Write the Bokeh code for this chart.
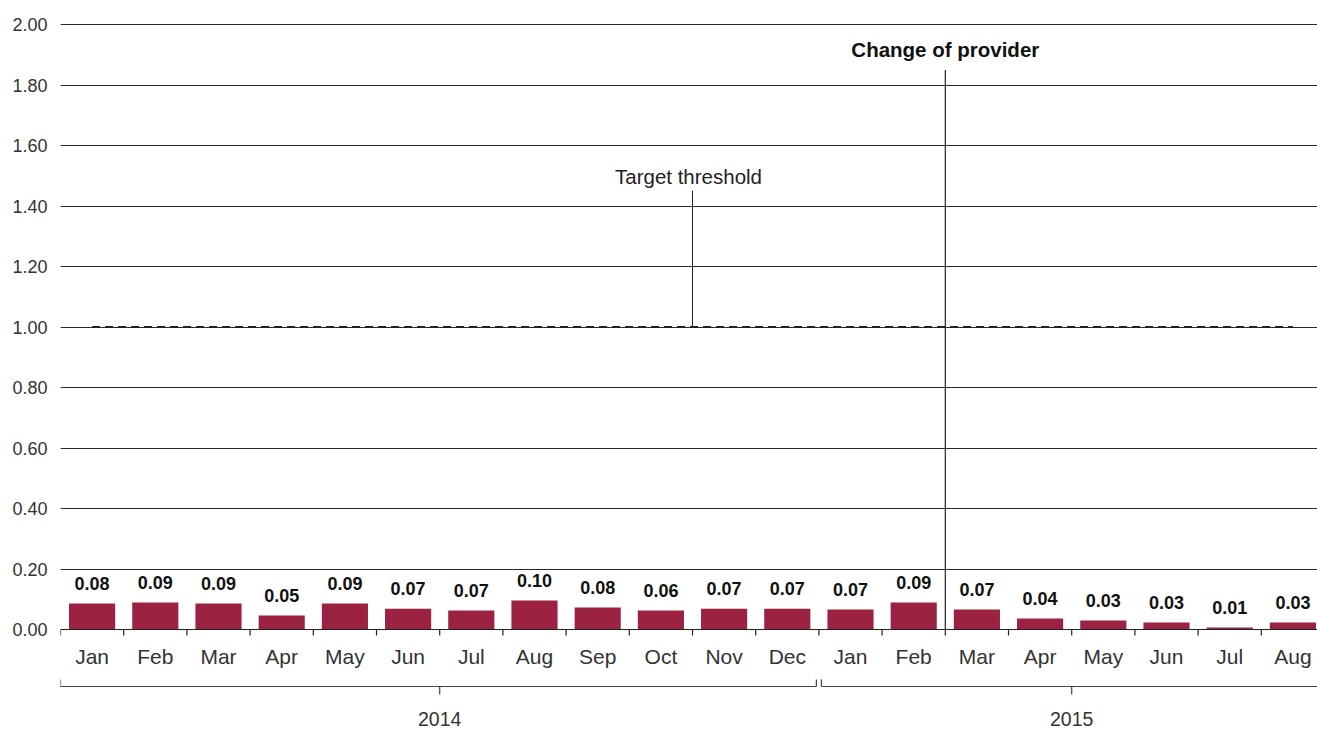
from bokeh.plotting import figure
from bokeh.models import FixedTicker, NumeralTickFormatter, ColumnDataSource, Span
from bokeh.core.properties import value
from bokeh.embed import file_html
from bokeh.resources import INLINE

# ---- data ----
months = ["Jan", "Feb", "Mar", "Apr", "May", "Jun", "Jul", "Aug", "Sep", "Oct", "Nov", "Dec",
          "Jan", "Feb", "Mar", "Apr", "May", "Jun", "Jul", "Aug"]
years = ["2014", "2015"]
year_counts = [12, 8]
bar_values = [0.086, 0.089, 0.086, 0.046, 0.086, 0.069, 0.063, 0.096, 0.073, 0.063,
              0.069, 0.069, 0.066, 0.089, 0.066, 0.036, 0.030, 0.023, 0.007, 0.023]
value_labels = ["0.08", "0.09", "0.09", "0.05", "0.09", "0.07", "0.07", "0.10", "0.08", "0.06",
                "0.07", "0.07", "0.07", "0.09", "0.07", "0.04", "0.03", "0.03", "0.01", "0.03"]
y_ticks = [0.0, 0.2, 0.4, 0.6, 0.8, 1.0, 1.2, 1.4, 1.6, 1.8, 2.0]
threshold = 1.0
threshold_label = "Target threshold"
threshold_label_pos = 9.5
threshold_label_height = 1.45
provider_change_pos = 13.5
provider_label = "Change of provider"
provider_line_top = 1.85

# ---- layout ----
W, H = 1317, 729
LEFT = 60
CAT_PX = 63.2
PPU = 302.5  # pixels per y unit
y_start = -(H - 629) / PPU
y_end = y_start + H / PPU
x_start = -0.5
x_end = x_start + (W - LEFT) / CAT_PX

FONT = "Liberation Sans"
TXT = "#333333"
BAR = "#9b2240"

p = figure(width=W, height=H, output_backend="svg", toolbar_location=None,
           x_range=(x_start, x_end), y_range=(y_start, y_end),
           x_axis_location=None, min_border_left=LEFT, min_border_top=0,
           min_border_bottom=0, min_border_right=0)
p.outline_line_color = None
p.xgrid.visible = False
p.ygrid.ticker = FixedTicker(ticks=y_ticks[1:])
p.ygrid.grid_line_color = "#2a2a2a"
p.ygrid.grid_line_width = 1

ya = p.yaxis[0]
ya.ticker = FixedTicker(ticks=y_ticks)
ya.formatter = NumeralTickFormatter(format="0.00")
ya.axis_line_color = None
ya.major_tick_line_color = None
ya.minor_tick_line_color = None
ya.major_tick_out = 0
ya.major_tick_in = 0
ya.major_label_standoff = 13
ya.major_label_text_font = FONT
ya.major_label_text_font_size = "18px"
ya.major_label_text_color = TXT

xs = list(range(len(months)))
src = ColumnDataSource(dict(x=xs, top=bar_values, lab=value_labels, m=months))

# bars
p.vbar(x="x", top="top", width=0.73, bottom=0, source=src, fill_color=BAR, line_color=None)

# value labels
p.text(x="x", y="top", text="lab", source=src, text_align="center", text_baseline="middle",
       y_offset=-20, text_font=value(FONT), text_font_style="bold", text_font_size="18px",
       text_color="#111111")

# x axis line and boundary ticks
p.add_layout(Span(location=0, dimension="width", line_color="#222222", line_width=1.2))
bounds = [i - 0.5 for i in range(len(months) + 1)]
p.segment(x0=bounds, y0=[0] * len(bounds), x1=bounds, y1=[-6 / PPU] * len(bounds),
          line_color="#222222", line_width=1.2)

# month labels
p.text(x="x", y=0, text="m", source=src, text_align="center", text_baseline="middle",
       y_offset=27, text_font=value(FONT), text_font_size="21px", text_color=TXT)

# year brackets
yb = -57 / PPU
start = 0
gap = 0.04
for yr, n in zip(years, year_counts):
    x0 = start - 0.5 + (gap if start > 0 else 0)
    x1 = start + n - 0.5 - (gap if start + n < len(months) else 0)
    p.segment(x0=[x0], y0=[yb], x1=[x1], y1=[yb], line_color="#444444", line_width=1.2)
    p.segment(x0=[x0, x1], y0=[yb, yb], x1=[x0, x1], y1=[yb + 7 / PPU, yb + 7 / PPU],
              line_color="#444444", line_width=1.2)
    c = start + (n - 1) / 2
    p.segment(x0=[c], y0=[yb], x1=[c], y1=[yb - 8 / PPU], line_color="#444444", line_width=1.2)
    p.text(x=[c], y=[yb], text=[yr], text_align="center", text_baseline="middle", y_offset=32,
           text_font=value(FONT), text_font_size="19.5px", text_color=TXT)
    start += n

# threshold dashed line
p.line(x=[xs[0], xs[-1]], y=[threshold, threshold], line_color="#222222", line_width=2,
       line_dash="8 5")
p.segment(x0=[threshold_label_pos], y0=[threshold], x1=[threshold_label_pos],
          y1=[threshold_label_height], line_color="#222222", line_width=1)
p.text(x=[threshold_label_pos], y=[threshold_label_height], text=[threshold_label],
       text_align="center", text_baseline="middle", y_offset=-14, x_offset=-4,
       text_font=value(FONT), text_font_size="20.5px", text_color="#222222")

# provider change
p.segment(x0=[provider_change_pos], y0=[0], x1=[provider_change_pos], y1=[provider_line_top],
          line_color="#222222", line_width=1.2)
p.text(x=[provider_change_pos], y=[provider_line_top], text=[provider_label],
       text_align="center", text_baseline="middle", y_offset=-20,
       text_font=value(FONT), text_font_style="bold", text_font_size="20.5px", text_color="#111111")

open("out.html", "w").write(file_html(p, INLINE))
